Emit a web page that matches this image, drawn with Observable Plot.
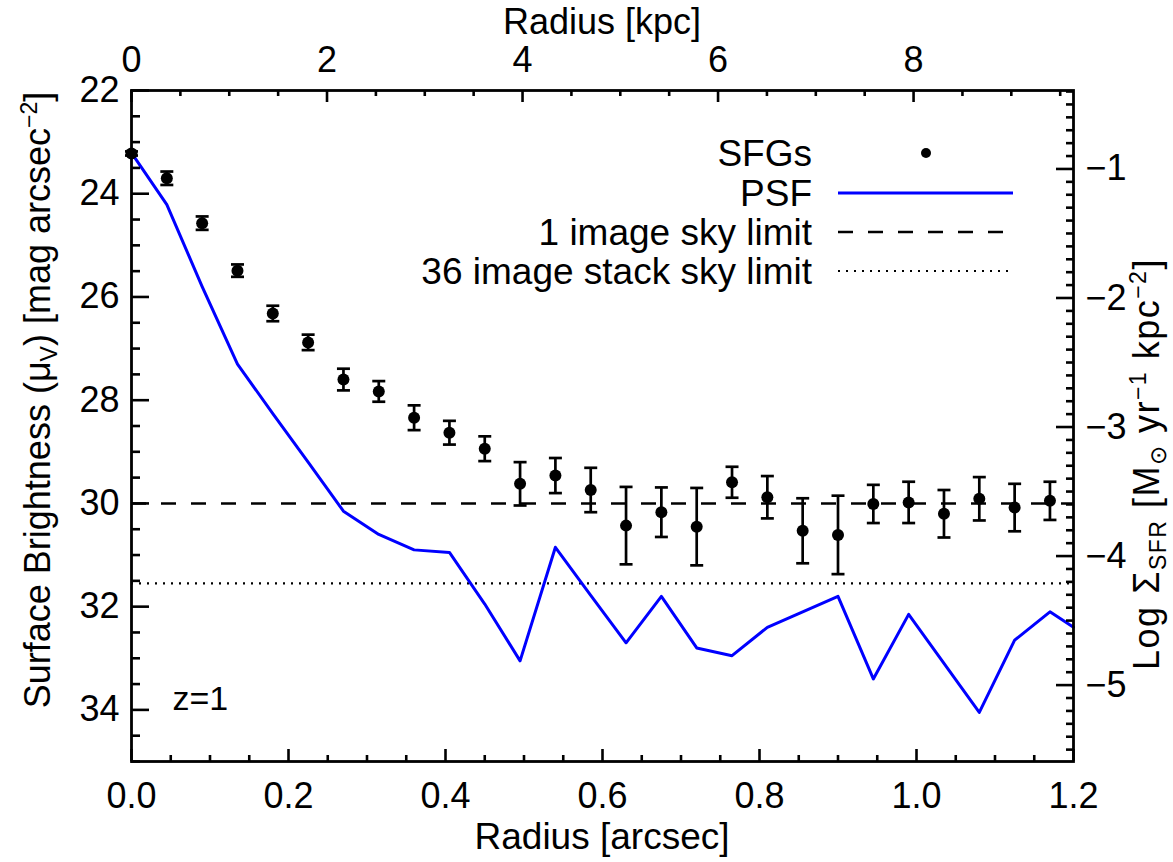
<!DOCTYPE html>
<html><head><meta charset="utf-8">
<script src="https://cdn.jsdelivr.net/npm/d3@7"></script>
<script src="https://cdn.jsdelivr.net/npm/@observablehq/plot@0.6"></script>
<style>
body{margin:0;background:#fff}
#chart{width:1173px;height:862px}
</style>
</head><body><div id="chart"></div>
<script>
// ---- data ----
const sfgRadius = [0, 0.045, 0.09, 0.135, 0.18, 0.225, 0.27, 0.315, 0.36, 0.405, 0.45, 0.495, 0.54,
  0.585, 0.63, 0.675, 0.72, 0.765, 0.81, 0.855, 0.9, 0.945, 0.99, 1.035, 1.08, 1.125, 1.17];
const sfgMag = [23.22, 23.70, 24.57, 25.49, 26.32, 26.88, 27.60, 27.83, 28.34, 28.63, 28.94, 29.62, 29.46,
  29.74, 30.43, 30.17, 30.45, 29.59, 29.88, 30.53, 30.61, 30.01, 29.98, 30.20, 29.91, 30.08, 29.95];
const sfgErr = [0.04, 0.13, 0.13, 0.12, 0.15, 0.15, 0.21, 0.20, 0.24, 0.23, 0.24, 0.42, 0.34,
  0.43, 0.75, 0.48, 0.75, 0.30, 0.41, 0.63, 0.76, 0.37, 0.40, 0.46, 0.42, 0.46, 0.37];
const psfRadius = [0, 0.045, 0.09, 0.135, 0.18, 0.225, 0.27, 0.315, 0.36, 0.405, 0.45, 0.495, 0.54,
  0.585, 0.63, 0.675, 0.72, 0.765, 0.81, 0.855, 0.9, 0.945, 0.99, 1.035, 1.08, 1.125, 1.17, 1.2];
const psfMag = [23.21, 24.21, 25.80, 27.30, 28.26, 29.20, 30.15, 30.60, 30.90, 30.95, 31.95, 33.05, 30.85,
  31.78, 32.70, 31.80, 32.80, 32.95, 32.40, 32.10, 31.80, 33.40, 32.15, 33.10, 34.05, 32.65, 32.10, 32.40];
const skyLimit1 = 30.0;     // 1 image sky limit
const skyLimit36 = 31.55;   // 36 image stack sky limit

// tick labels
const arcsecTicks = [0, 0.2, 0.4, 0.6, 0.8, 1.0, 1.2];
const kpcTicks = [0, 2, 4, 6, 8];
const magTicks = [22, 24, 26, 28, 30, 32, 34];
const logSfrTicks = [-1, -2, -3, -4, -5];
const legendLabels = ["SFGs", "PSF", "1 image sky limit", "36 image stack sky limit"];

// conversions of the secondary axes
const KPC_PER_ARCSEC = 8.03;
const MAG_AT_LOG_M3 = 28.52, MAG_PER_DEX = 2.5;
const logToMag = l => MAG_AT_LOG_M3 - MAG_PER_DEX * (l + 3);
const magToLog = m => -3 - (m - MAG_AT_LOG_M3) / MAG_PER_DEX;

// ---- layout ----
const W = 1173, H = 862, mL = 131, mR = 100, mT = 90, mB = 101;
const plotW = W - mL - mR, plotH = H - mT - mB;
const FONT = "'Liberation Sans', Arial, Helvetica, sans-serif";
const TICKFONT = 36, TITLEFONT = 37;

const sfg = sfgRadius.map((r, i) => ({r, mag: sfgMag[i], err: sfgErr[i]}));
const psf = psfRadius.map((r, i) => ({r, mag: psfMag[i]}));

const capSymbol = {draw(ctx, size) { const w = Math.sqrt(size / Math.PI); ctx.moveTo(-w, 0); ctx.lineTo(w, 0); }};

const round = v => Math.round(v * 1000) / 1000;
const xMinor = d3.range(0, 1.2001, 0.05).map(round).filter(v => !arcsecTicks.some(t => Math.abs(t - v) < 1e-6));
const kpcMinor = d3.range(0, 9.6, 0.5).filter(v => v % 2 !== 0);
const magMinor = d3.range(22, 35.001, 0.5).filter(v => v % 2 !== 0);
const logMinor = d3.range(-4, -56, -1).map(v => v / 10).filter(v => !Number.isInteger(v));

const TW = 2.6;
const chart = Plot.plot({
  width: W, height: H,
  marginLeft: mL, marginRight: mR, marginTop: mT, marginBottom: mB,
  x: {domain: [0, 1.2]},
  y: {domain: [35, 22]},
  style: {fontFamily: FONT, fontSize: TICKFONT + "px", color: "black", background: "white"},
  marks: [
    Plot.ruleY([skyLimit1], {stroke: "black", strokeWidth: 2.5, strokeDasharray: "15,15"}),
    Plot.ruleY([skyLimit36], {stroke: "black", strokeWidth: 2.2, strokeDasharray: "2,6"}),
    Plot.line(psf, {x: "r", y: "mag", stroke: "#0000ff", strokeWidth: 3}),
    Plot.ruleX(sfg, {x: "r", y1: d => d.mag - d.err, y2: d => d.mag + d.err, stroke: "black", strokeWidth: 2.7}),
    Plot.dot(sfg, {x: "r", y: d => d.mag - d.err, symbol: capSymbol, r: 6.5, fill: "none", stroke: "black", strokeWidth: 2.7}),
    Plot.dot(sfg, {x: "r", y: d => d.mag + d.err, symbol: capSymbol, r: 6.5, fill: "none", stroke: "black", strokeWidth: 2.7}),
    Plot.dot(sfg, {x: "r", y: "mag", r: 6, fill: "black", stroke: "none"}),
    // inward ticks
    Plot.tickX(arcsecTicks, {x: d => d, insetTop: plotH - 12, strokeWidth: TW}),
    Plot.tickX(xMinor, {x: d => d, insetTop: plotH - 6, strokeWidth: TW}),
    Plot.tickX(kpcTicks, {x: d => d / KPC_PER_ARCSEC, insetBottom: plotH - 12, strokeWidth: TW}),
    Plot.tickX(kpcMinor, {x: d => d / KPC_PER_ARCSEC, insetBottom: plotH - 6, strokeWidth: TW}),
    Plot.tickY(magTicks, {y: d => d, insetRight: plotW - 18, strokeWidth: TW}),
    Plot.tickY(magMinor, {y: d => d, insetRight: plotW - 9, strokeWidth: TW}),
    Plot.tickY(logSfrTicks, {y: d => logToMag(d), insetLeft: plotW - 17, strokeWidth: TW}),
    Plot.tickY(logMinor, {y: d => logToMag(d), insetLeft: plotW - 7, strokeWidth: TW}),
    Plot.frame({stroke: "black", strokeWidth: 2.8}),
    // tick labels
    Plot.axisX({anchor: "bottom", ticks: arcsecTicks, tickFormat: d3.format(".1f"), tickSize: 0, tickPadding: 21, fontSize: TICKFONT, label: null}),
    Plot.axisX({anchor: "top", ticks: kpcTicks.map(k => k / KPC_PER_ARCSEC), tickFormat: d => String(Math.round(d * KPC_PER_ARCSEC)), tickSize: 0, tickPadding: 19, fontSize: TICKFONT, label: null}),
    Plot.axisY({anchor: "left", ticks: magTicks, tickFormat: d => String(d), tickSize: 0, tickPadding: 12, fontSize: TICKFONT, label: null}),
    Plot.axisY({anchor: "right", ticks: logSfrTicks.map(logToMag), tickFormat: d => "\u2212" + Math.abs(Math.round(magToLog(d))), tickSize: 0, tickPadding: 12, fontSize: TICKFONT, label: null}),
    Plot.text(["z=1"], {frameAnchor: "bottom-left", dx: 41, dy: -52, textAnchor: "start", lineAnchor: "bottom", fontSize: 34, fill: "black"})
  ]
});
document.getElementById("chart").appendChild(chart);

// ---- axis titles and legend ----
const svg = d3.select(chart);
const g = svg.append("g").attr("font-family", FONT).attr("font-size", TITLEFONT).attr("fill", "black");

// top title
g.append("text").attr("x", mL + plotW / 2).attr("y", 34).attr("text-anchor", "middle").attr("font-size", 36).text("Radius [kpc]");
// bottom title
g.append("text").attr("x", mL + plotW / 2).attr("y", 849).attr("text-anchor", "middle").text("Radius [arcsec]");

// left title (rotated)
const lt = g.append("text").attr("transform", "translate(50,400) rotate(-90)").attr("text-anchor", "middle").attr("font-size", 36);
lt.append("tspan").text("Surface Brightness (\u03bc");
lt.append("tspan").attr("font-size", 23).attr("dy", 7).text("V");
lt.append("tspan").attr("dy", -7).text(") [mag arcsec");
lt.append("tspan").attr("font-size", 23).attr("dy", -13).text("\u22122");
lt.append("tspan").attr("dy", 13).text("]");

// right title (rotated)
const rt = g.append("text").attr("transform", "translate(1159,464) rotate(-90)").attr("text-anchor", "middle").attr("font-size", 36).attr("letter-spacing", 1.5);
rt.append("tspan").text("Log \u03a3");
rt.append("tspan").attr("font-size", 23).attr("dy", 7).text("SFR");
rt.append("tspan").attr("dy", -7).text(" [M");
rt.append("tspan").attr("font-size", 23).attr("dy", 7).text("\u2299");
rt.append("tspan").attr("dy", -7).text(" yr");
rt.append("tspan").attr("font-size", 23).attr("dy", -13).text("\u22121");
rt.append("tspan").attr("dy", 13).text(" kpc");
rt.append("tspan").attr("font-size", 23).attr("dy", -13).text("\u22122");
rt.append("tspan").attr("dy", 13).text("]");

// legend
const legY = [153, 193, 232, 271];
const lg = g.append("g");
legendLabels.forEach((lab, i) => {
  lg.append("text").attr("x", 812).attr("y", legY[i]).attr("dy", "0.35em").attr("text-anchor", "end").text(lab);
});
lg.append("circle").attr("cx", 926).attr("cy", legY[0]).attr("r", 5).attr("fill", "black");
lg.append("line").attr("x1", 838).attr("x2", 1013).attr("y1", legY[1]).attr("y2", legY[1]).attr("stroke", "#0000ff").attr("stroke-width", 3);
lg.append("line").attr("x1", 838).attr("x2", 1013).attr("y1", legY[2]).attr("y2", legY[2]).attr("stroke", "black").attr("stroke-width", 2.5).attr("stroke-dasharray", "15,15");
lg.append("line").attr("x1", 838).attr("x2", 1013).attr("y1", legY[3]).attr("y2", legY[3]).attr("stroke", "black").attr("stroke-width", 2.2).attr("stroke-dasharray", "2,6");
</script>
</body></html>
